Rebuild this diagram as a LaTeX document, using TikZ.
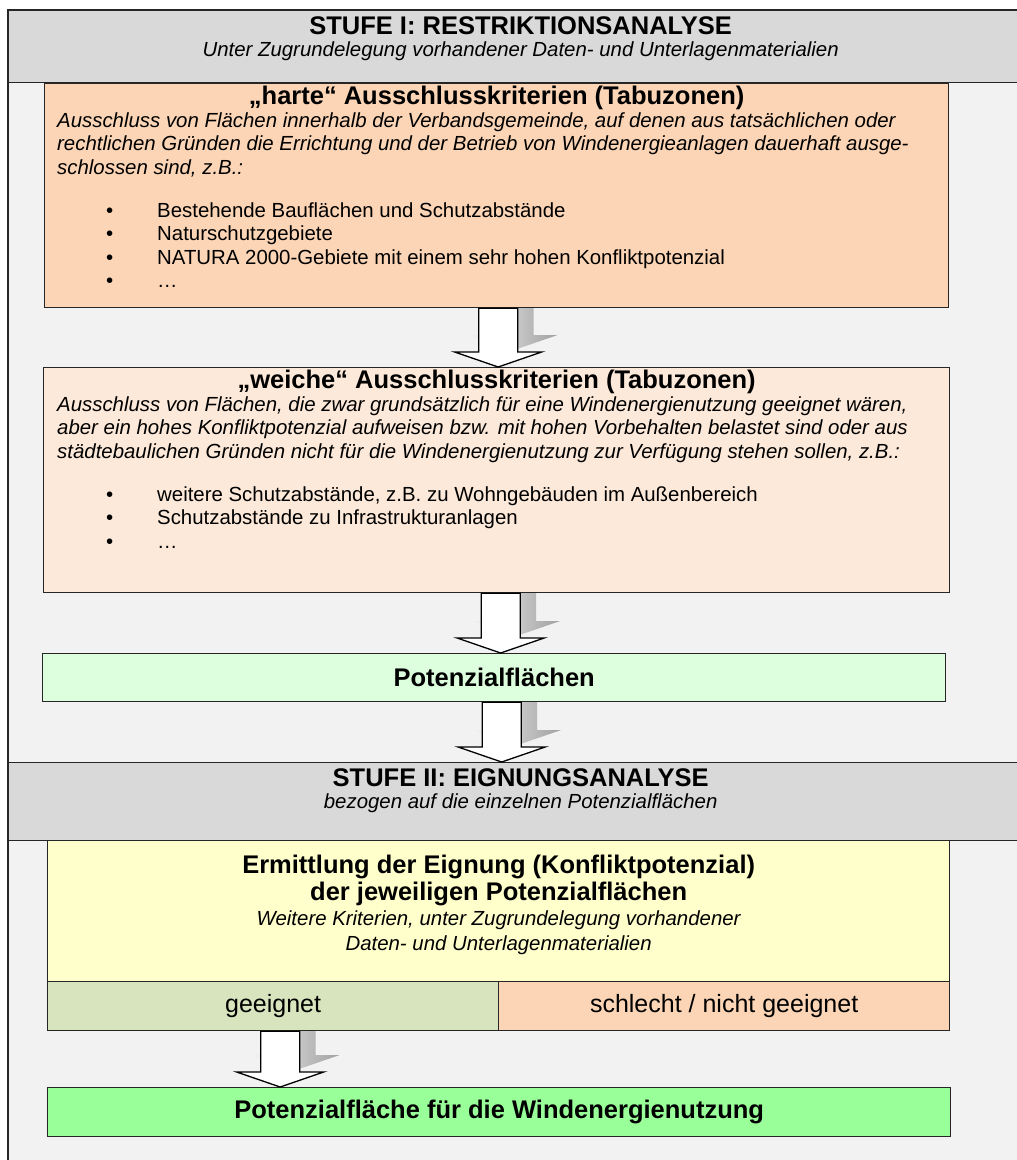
\documentclass[tikz,border=0pt]{standalone}
\usepackage{fontspec}
\setmainfont{Liberation Sans}
\usetikzlibrary{positioning, calc}
\definecolor{stufegray}{HTML}{D9D9D9}
\definecolor{paneback}{HTML}{F2F2F2}
\definecolor{hartfill}{HTML}{FBD5B5}
\definecolor{weichfill}{HTML}{FDE9D9}
\definecolor{potfill}{HTML}{DDFFDD}
\definecolor{eignfill}{HTML}{FFFFCC}
\definecolor{gutfill}{HTML}{D7E4BD}
\definecolor{schlechtfill}{HTML}{FBD5B5}
\definecolor{windfill}{HTML}{99FF99}
\definecolor{shadowgray}{HTML}{B2B2B2}
\pgfdeclarelayer{back}
\pgfdeclarelayer{shade}
\pgfsetlayers{back,shade,main}
\newcommand{\bodyfont}{\fontsize{20.4}{23.5}\selectfont}
\newcommand{\titlefont}{\fontsize{25.5}{27}\selectfont\bfseries}
\newcommand{\flowarrow}[2]{%
  \begin{pgfonlayer}{shade}
    \shade[arrowshadow] let \p1=#1, \p2=#2 in
      (\x1-3.5pt,\y1+17pt) -- (\x1-3.5pt,\y2+32pt) -- (\x1-27.5pt,\y2+32pt) -- (\x1+16pt,\y2+17pt)
      -- (\x1+59.5pt,\y2+32pt) -- (\x1+35.5pt,\y2+32pt) -- (\x1+35.5pt,\y1+17pt) -- cycle;
  \end{pgfonlayer}
  \draw[blockarrow] let \p1=#1, \p2=#2 in
    (\x1-19.5pt,\y1) -- (\x1-19.5pt,\y2+15pt) -- (\x1-43.5pt,\y2+15pt) -- (\x1,\y2)
    -- (\x1+43.5pt,\y2+15pt) -- (\x1+19.5pt,\y2+15pt) -- (\x1+19.5pt,\y1) -- cycle;
}

\begin{document}
\begin{tikzpicture}[x=1pt, y=-1pt,
  stufebox/.style={draw=black!85, line width=1.3pt, fill=stufegray, minimum width=1024pt, inner sep=0pt, anchor=north west},
  critbox/.style={draw=black!85, line width=1.3pt, inner sep=0pt, anchor=north west},
  headtext/.style={inner sep=0pt, font=\titlefont},
  subtext/.style={inner sep=0pt, font=\bodyfont\itshape},
  bodytext/.style={inner sep=0pt, align=left, anchor=north west, font=\bodyfont},
  celltext/.style={inner sep=0pt, font=\fontsize{25}{27}\selectfont},
  blockarrow/.style={draw=black, line width=1.3pt, fill=white, line join=miter},
  arrowshadow/.style={left color=paneback, middle color=shadowgray, right color=shadowgray!90!black}
]
  \useasboundingbox (0,0) rectangle (1017,1160);
  \begin{pgfonlayer}{back}
    \fill[paneback] (8,10) rectangle (1032,1175);
    \draw[line width=1.3pt, black!85] (8,10) rectangle (1032,1175);
  \end{pgfonlayer}

  \node[stufebox, minimum height=72pt] (stufeI) at (8,10) {};
  \node[headtext] (stufeItitle) at ($(stufeI.north)+(0,16)$) {STUFE I: RESTRIKTIONSANALYSE};
  \node[subtext] (stufeIsub) at ($(stufeI.north)+(0,41)$) {Unter Zugrundelegung vorhandener Daten- und Unterlagenmaterialien};

  \node[critbox, fill=hartfill, minimum width=904pt, minimum height=224pt] (hart) at (44,83) {};
  \node[headtext] (hartTitle) at ($(hart.north)+(0,15)$) {„harte“ Ausschlusskriterien (Tabuzonen)};
  \node[bodytext, font=\bodyfont\itshape] (hartText) at ($(hart.north west)+(13,29.5)$) {%
    Ausschluss von Flächen innerhalb der Verbandsgemeinde, auf denen aus tatsächlichen oder\\
    rechtlichen Gründen die Errichtung und der Betrieb von Windenergieanlagen dauerhaft ausge-\\
    schlossen sind, z.B.:};
  \node[bodytext] (hartList) at ($(hart.north west)+(62,119.5)$) {%
    \makebox[51pt][l]{•}Bestehende Bauflächen und Schutzabstände\\
    \makebox[51pt][l]{•}Naturschutzgebiete\\
    \makebox[51pt][l]{•}NATURA 2000-Gebiete mit einem sehr hohen Konfliktpotenzial\\
    \makebox[51pt][l]{•}…};

  \node[critbox, fill=weichfill, minimum width=906pt, minimum height=225pt] (weich) at (43,367) {};
  \node[headtext] (weichTitle) at ($(weich.north)+(0,15)$) {„weiche“ Ausschlusskriterien (Tabuzonen)};
  \node[bodytext, font=\bodyfont\itshape] (weichText) at ($(weich.north west)+(14,29.5)$) {%
    Ausschluss von Flächen, die zwar grundsätzlich für eine Windenergienutzung geeignet wären,\\
    aber ein hohes Konfliktpotenzial aufweisen bzw. mit hohen Vorbehalten belastet sind oder aus\\
    städtebaulichen Gründen nicht für die Windenergienutzung zur Verfügung stehen sollen, z.B.:};
  \node[bodytext] (weichList) at ($(weich.north west)+(63,119.5)$) {%
    \makebox[51pt][l]{•}weitere Schutzabstände, z.B. zu Wohngebäuden im Außenbereich\\
    \makebox[51pt][l]{•}Schutzabstände zu Infrastrukturanlagen\\
    \makebox[51pt][l]{•}…};

  \node[critbox, fill=potfill, minimum width=903pt, minimum height=48pt] (potenz) at (42,653) {};
  \node[headtext] (potenzText) at (potenz.center) {Potenzialflächen};

  \node[stufebox, minimum height=78pt] (stufeII) at (8,762) {};
  \node[headtext] (stufeIItitle) at ($(stufeII.north)+(0,16)$) {STUFE II: EIGNUNGSANALYSE};
  \node[subtext] (stufeIIsub) at ($(stufeII.north)+(0,41)$) {bezogen auf die einzelnen Potenzialflächen};

  \node[critbox, fill=eignfill, minimum width=902pt, minimum height=141pt] (eign) at (47,840) {};
  \node[headtext, align=center] (eignTitle) at ($(eign.north)+(0,40.5)$) {Ermittlung der Eignung (Konfliktpotenzial)\\der jeweiligen Potenzialflächen};
  \node[subtext, align=center, font=\fontsize{20.4}{25}\selectfont\itshape] (eignText) at ($(eign.north)+(0,92.5)$) {Weitere Kriterien, unter Zugrundelegung vorhandener\\Daten- und Unterlagenmaterialien};

  \node[critbox, fill=gutfill, minimum width=451pt, minimum height=49pt] (gut) at (47,981) {};
  \node[celltext] (gutText) at (gut.center) {geeignet};
  \node[critbox, fill=schlechtfill, minimum width=451pt, minimum height=49pt] (schlecht) at (498,981) {};
  \node[celltext] (schlechtText) at (schlecht.center) {schlecht / nicht geeignet};

  \node[critbox, fill=windfill, minimum width=903pt, minimum height=49pt] (wind) at (47,1087) {};
  \node[headtext] (windText) at (wind.center) {Potenzialfläche für die Windenergienutzung};

  \flowarrow{($(hart.south)+(1.5,0)$)}{(weich.north)}
  \flowarrow{($(weich.south)+(4,0)$)}{(potenz.north)}
  \flowarrow{($(potenz.south)+(7.5,0)$)}{(stufeII.north)}
  \flowarrow{($(gut.south)+(7,0)$)}{(wind.north)}
\end{tikzpicture}
\end{document}
